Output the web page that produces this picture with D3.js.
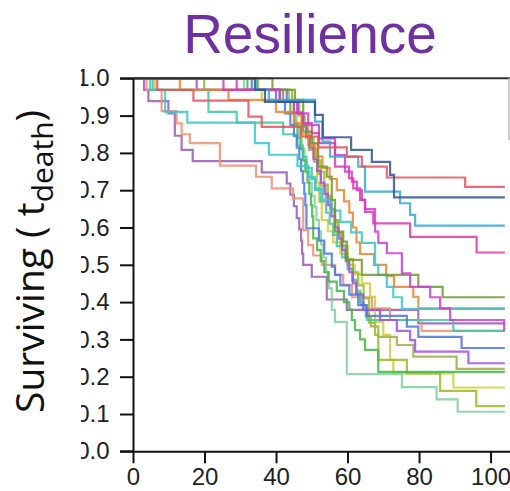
<!DOCTYPE html>
<html>
<head>
<meta charset="utf-8">
<script src="https://cdn.jsdelivr.net/npm/d3@7"></script>
<style>
  html, body { margin: 0; padding: 0; background: #fff; }
  svg { display: block; }
</style>
</head>
<body>
<svg id="chart" width="510" height="491"></svg>
<script>
// ---------------- data ----------------
const chartTitle = "Resilience";
const xTicks = [0, 20, 40, 60, 80, 100];
const yTicks = [0, 0.1, 0.2, 0.3, 0.4, 0.5, 0.6, 0.7, 0.8, 0.9, 1.0];
const tEnd = 104;

// step survival curves: [time, surviving fraction from that time on]
const sPurple = [[0,1],[3.1,0.969],[4.3,0.939],[9.9,0.906],[11.7,0.846],[13.6,0.808],[16.7,0.778],[36,0.748],[43,0.718],[44,0.688],[45,0.657],[45.8,0.625],[46.5,0.595],[47,0.565],[47.3,0.53],[47.6,0.5],[50,0.468],[54.2,0.407],[59.8,0.379],[79.8,0.343]];
const sSalmon = [[0,1],[3.8,0.969],[8,0.912],[12.2,0.879],[13.6,0.85],[15.9,0.826],[24.3,0.766],[34.4,0.736],[38.8,0.705],[44.8,0.678],[47.6,0.593],[49,0.553],[50.4,0.525],[52.8,0.5],[56.5,0.473],[58.8,0.446],[61.2,0.413],[66.8,0.383],[71.9,0.352],[80.7,0.323]];
const sTeal = [[0,1],[4.8,0.969],[9,0.91],[15.2,0.881],[34.1,0.826],[38,0.795],[46,0.765],[49,0.735],[51,0.705],[53,0.675],[55.5,0.645],[58,0.615],[61,0.587],[64,0.559],[67.7,0.5],[68.6,0.473],[71,0.441],[72.8,0.413],[75.2,0.382]];
const sTealGreen = [[0,1],[5.5,0.969],[21.1,0.91],[29,0.881],[42,0.85],[46,0.82],[47.5,0.79],[48.5,0.76],[50,0.73],[51,0.70],[52.5,0.67],[54,0.64],[55,0.61],[56,0.58],[57,0.55],[58.5,0.52],[60,0.49],[61.5,0.46],[62.5,0.43],[63.5,0.40],[64.5,0.38],[65.4,0.352],[89.6,0.323]];
const sRed = [[0,1],[6.8,0.969],[16.9,0.94],[32.3,0.897],[36,0.87],[47,0.844],[51.8,0.815],[59.8,0.79],[64,0.763],[71,0.734],[92.9,0.709]];
const sOrange = [[0,1],[13.1,0.969],[26.7,0.942],[40,0.91],[45,0.88],[47,0.85],[49,0.82],[51,0.79],[53,0.76],[55,0.73],[57,0.70],[59,0.67],[60.5,0.64],[61.5,0.60],[62.5,0.56],[63.5,0.529],[67.4,0.5],[70.8,0.47],[73,0.441],[78.4,0.414],[79.8,0.383]];
const sViolet = [[0,1],[17.8,0.969],[43,0.937],[46,0.906],[47.5,0.875],[48.5,0.845],[49.5,0.814],[50.5,0.783],[51.5,0.752],[52.5,0.72],[53.5,0.69],[54.5,0.66],[55.5,0.63],[56.5,0.60],[57.5,0.57],[58.5,0.54],[59.5,0.51],[60.5,0.48],[61.5,0.45],[62.5,0.42],[64.4,0.379],[69.1,0.352],[73.8,0.323],[77.5,0.298],[78.9,0.267],[93.8,0.236]];
const sKhaki = [[0,1],[19.9,0.969],[43.5,0.937],[46.2,0.906],[47.3,0.872],[48.4,0.84],[49.2,0.808],[50.6,0.776],[51.8,0.744],[52.6,0.712],[53.9,0.68],[55.1,0.648],[56.3,0.616],[57.2,0.584],[58.1,0.552],[59.4,0.52],[60.2,0.488],[61.3,0.456],[62.4,0.424],[63.8,0.392],[65.1,0.36],[66.5,0.335],[68.6,0.307],[73.8,0.285],[78.4,0.254],[90.5,0.221]];
const sMagenta1 = [[0,1],[25.3,0.969],[41,0.937],[45,0.908],[47.6,0.88],[50,0.853],[52,0.826],[56.5,0.763],[60.4,0.732],[61.6,0.705],[63.5,0.674],[64.9,0.642],[67.2,0.611],[77.5,0.575],[96.1,0.533]];
const sMagenta2 = [[0,1],[29,0.969],[41.1,0.937],[46,0.906],[49,0.875],[52,0.839],[56.5,0.794],[59.3,0.75],[61.2,0.723],[62.6,0.70],[64,0.674],[64.9,0.649],[67.7,0.589],[68.6,0.559],[71,0.531],[75.2,0.477],[77.5,0.441],[83.1,0.413],[85.9,0.383],[88.7,0.352],[103.8,0.325]];
const sGreen = [[0,1],[32,0.969],[42,0.937],[44,0.906],[45.2,0.875],[46,0.84],[46.8,0.81],[47.5,0.78],[48.2,0.75],[48.8,0.72],[49.3,0.69],[49.8,0.66],[50.1,0.63],[50.4,0.571],[51.5,0.54],[52.5,0.51],[53.5,0.48],[54.6,0.455],[57,0.43],[59,0.40],[60.5,0.38],[61.2,0.352],[62.1,0.325],[63.5,0.30],[64.9,0.272],[68.6,0.213]];
const sBlue = [[0,1],[33.2,0.969],[40,0.937],[42.5,0.906],[44,0.875],[45,0.845],[45.8,0.814],[46.5,0.783],[47,0.752],[47.5,0.72],[47.9,0.69],[48.2,0.66],[48.5,0.598],[52,0.565],[53.5,0.53],[55.6,0.495],[56.5,0.473],[58,0.445],[60.5,0.42],[63,0.392],[65.4,0.363],[76.6,0.334],[79.8,0.307],[91.9,0.277]];
const sDarkBlue = [[0,1],[34.1,0.969],[36.9,0.937],[50.9,0.902],[53.1,0.842],[61,0.808],[66.8,0.776],[71.9,0.741],[73,0.681]];
const sCyanBlue = [[0,1],[34.6,0.969],[38,0.942],[50.9,0.884],[53,0.83],[55.1,0.79],[63,0.763],[64.9,0.696],[74.7,0.665],[77.5,0.634],[78.9,0.605]];
const sOlive = [[0,1],[39,0.969],[45.3,0.942],[47.6,0.857],[50,0.826],[51.8,0.763],[54.2,0.736],[55.6,0.674],[56.5,0.589],[58.8,0.562],[59.8,0.513],[64,0.473],[79.8,0.441],[86.6,0.413]];
const sYellow = [[0,1],[6.2,0.969],[36,0.94],[45,0.91],[47,0.88],[48.5,0.85],[49.5,0.82],[50.5,0.79],[51.5,0.72],[52,0.669],[52.8,0.62],[54.5,0.59],[56,0.56],[58,0.53],[60,0.50],[62,0.475],[64,0.45],[66.3,0.414],[67.7,0.347],[70,0.312],[71.9,0.245],[72.8,0.209],[89.6,0.171]];
const sYellowGreen = [[0,1],[35,0.969],[44.5,0.937],[46.5,0.9],[48,0.87],[49,0.84],[50.5,0.81],[51.5,0.78],[52.5,0.75],[53.5,0.715],[54.5,0.685],[55.5,0.65],[56.5,0.62],[57.5,0.585],[58.5,0.55],[60,0.515],[61.5,0.48],[63,0.445],[64.5,0.41],[66,0.345],[67.7,0.312],[68.6,0.245],[76.6,0.209],[85.9,0.162],[96,0.121]];
const sLightGreen = [[0,1],[31,0.969],[43.5,0.937],[45,0.906],[45.8,0.875],[46.6,0.845],[47.2,0.81],[48,0.78],[48.6,0.75],[49.4,0.72],[50,0.685],[50.8,0.655],[51.3,0.62],[52,0.59],[52.6,0.555],[53.2,0.52],[54,0.48],[54.8,0.437],[55.6,0.379],[56.5,0.347],[59.8,0.207],[75.2,0.172],[84.9,0.139],[90.8,0.106]];

const series = [sPurple, sSalmon, sYellow, sKhaki, sLightGreen, sYellowGreen, sGreen, sTealGreen,
                sViolet, sBlue, sOrange, sTeal, sOlive, sMagenta2, sMagenta1, sCyanBlue, sRed, sDarkBlue];
const palette = ["#9a5ab5", "#ee8e72", "#d6cb38", "#a0ae45", "#80d0a0", "#9cba22", "#44b548", "#3cc8a0",
                 "#a84ce8", "#4a78e0", "#e8862f", "#38c6cc", "#6f9a2f", "#cf3cd6", "#dd3aa8", "#33a8d6", "#e5525f", "#2f5597"];

// ---------------- drawing ----------------
const svg = d3.select("#chart");
const x = d3.scaleLinear().domain([0, 105.3]).range([133, 509.5]);
const y = d3.scaleLinear().domain([0, 1]).range([451.3, 78.3]);

svg.append("defs").append("clipPath").attr("id", "lblclip")
  .append("rect").attr("x", 81).attr("y", 0).attr("width", 440).attr("height", 491);

// title
svg.append("text")
  .attr("x", 310).attr("y", 53)
  .attr("text-anchor", "middle")
  .attr("font-family", "Liberation Sans, Arial, sans-serif")
  .attr("font-size", 55)
  .attr("fill", "#7030a0")
  .text(chartTitle);

// y label
const yl = svg.append("text")
  .attr("transform", "translate(44,413) rotate(-90)")
  .attr("font-family", "Open Sans, sans-serif")
  .attr("font-size", 39)
  .attr("fill", "#111");
yl.append("tspan").text("Surviving ( t");
yl.append("tspan").attr("dy", 9).attr("font-size", 30).text("death");
yl.append("tspan").attr("dy", -9).text(")");

// curves
const line = d3.line().x(d => x(d[0])).y(d => y(d[1])).curve(d3.curveStepAfter);
svg.append("g").selectAll("path").data(series).join("path")
  .attr("d", d => line(d.concat([[tEnd, d[d.length - 1][1]]])))
  .attr("fill", "none")
  .attr("stroke", (d, i) => palette[i])
  .attr("stroke-width", 2.2)
  .attr("stroke-opacity", 0.85);

// frame top and partial right
svg.append("line").attr("x1", 120).attr("x2", 510).attr("y1", y(1)).attr("y2", y(1))
  .attr("stroke", "#333").attr("stroke-width", 2);
svg.append("line").attr("x1", 509).attr("x2", 509).attr("y1", y(1)).attr("y2", 140)
  .attr("stroke", "#bbb").attr("stroke-width", 1.5);

// y axis (wrapped in a clipped group to reproduce the cropped left edge of the labels)
const yWrap = svg.append("g").attr("clip-path", "url(#lblclip)");
const yAxis = yWrap.append("g").attr("transform", `translate(${x(0)},0)`)
  .call(d3.axisLeft(y).tickValues(yTicks).tickSize(13).tickSizeOuter(0).tickPadding(10.5).tickFormat(d3.format(".1f")));
yAxis.select(".domain").attr("stroke", "#111").attr("stroke-width", 2);
yAxis.selectAll(".tick line").attr("stroke", "#111").attr("stroke-width", 2);
yAxis.selectAll(".tick text")
  .attr("font-family", "Liberation Sans, Arial, sans-serif")
  .attr("font-size", 24).attr("fill", "#222");

// x axis
const xAxis = svg.append("g").attr("transform", `translate(0,${y(0)})`)
  .call(d3.axisBottom(x).tickValues(xTicks).tickSize(12).tickSizeOuter(0).tickPadding(5));
xAxis.select(".domain").attr("stroke", "#111").attr("stroke-width", 2);
xAxis.selectAll(".tick line").attr("stroke", "#111").attr("stroke-width", 2);
xAxis.selectAll(".tick text")
  .attr("font-family", "Liberation Sans, Arial, sans-serif")
  .attr("font-size", 24).attr("fill", "#222");
// extend x axis line left to the y tick length
svg.append("line").attr("x1", 120).attr("x2", x(0)).attr("y1", y(0)).attr("y2", y(0))
  .attr("stroke", "#111").attr("stroke-width", 2);
</script>
</body>
</html>
